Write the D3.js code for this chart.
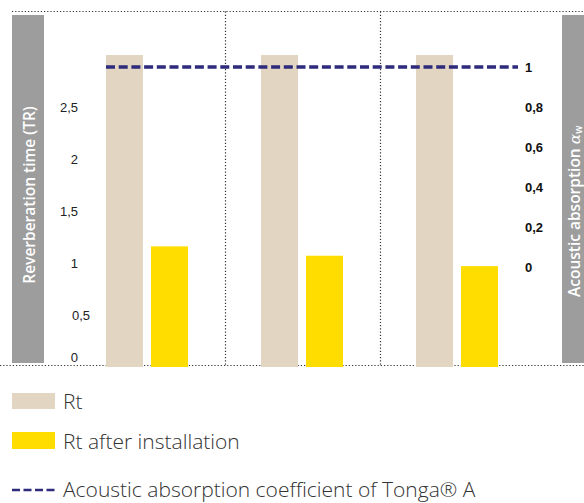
<!DOCTYPE html>
<html lang="en">
<head>
<meta charset="UTF-8">
<title>Reverberation time before and after Tonga A</title>
<script src="https://d3js.org/d3.v7.min.js"></script>
<style>
  body { margin: 0; background: #fff; }
  svg { display: block; }
  .tick-l { font: 13px "Liberation Sans", Arial, sans-serif; fill: #222; }
  .tick-r { font: bold 13px "Liberation Sans", Arial, sans-serif; fill: #111; }
  .side-title { font: 600 15.5px "Open Sans", sans-serif; fill: #fff; }
  .legend-text { font: 300 21px "Open Sans", sans-serif; fill: #333; }
</style>
</head>
<body>
<div id="chart"></div>
<script>
// data
var rooms = ["Room 1", "Room 2", "Room 3"];
var seriesKeys = ["Rt", "Rt after installation"];
var rtBefore = [3.0, 3.0, 3.0];
var rtAfter = [1.16, 1.07, 0.97];
var absorption = 1.0;
var leftTicks = [0, 0.5, 1, 1.5, 2, 2.5];
var rightTicks = [0, 0.2, 0.4, 0.6, 0.8, 1];

var width = 584, height = 503;
var colors = { "Rt": "#e2d5c2", "Rt after installation": "#ffdd00" };
var navy = "#2e2a7c";

var svg = d3.select("#chart").append("svg")
  .attr("width", width)
  .attr("height", height);

// scales
var x0 = d3.scaleBand().domain(rooms).range([70, 535]).padding(0);
var x1 = d3.scaleBand().domain(seriesKeys).range([36, 118]).paddingInner(8 / 45).paddingOuter(0);
var yL = d3.scaleLinear().domain([0, 3]).range([367, 55]);
var yR = d3.scaleLinear().domain([0, 1]).range([267, 67]);

var fmt = function(d) { return String(d).replace(".", ","); };

// grey side bands
svg.append("rect").attr("x", 12).attr("y", 15).attr("width", 32).attr("height", 348).attr("fill", "#9d9d9d");
svg.append("rect").attr("x", 562).attr("y", 15).attr("width", 22).attr("height", 348).attr("fill", "#9d9d9d");

svg.append("text")
  .attr("class", "side-title")
  .attr("transform", "translate(35,195) rotate(-90)")
  .attr("text-anchor", "middle")
  .text("Reverberation time (TR)");

var rt = svg.append("text")
  .attr("class", "side-title")
  .attr("transform", "translate(580,297) rotate(-90)");
rt.append("tspan").text("Acoustic absorption ");
rt.append("tspan").style("font-family", "DejaVu Serif").style("font-style", "italic").style("font-weight", "normal").text("α");
rt.append("tspan").attr("dy", 2).style("font-size", "10px").text("w");

// dotted frame lines
var dotted = { stroke: "#333", "stroke-width": 1.2, "stroke-dasharray": "1.2,2" };
function dline(x1_, y1_, x2_, y2_) {
  var l = svg.append("line").attr("x1", x1_).attr("y1", y1_).attr("x2", x2_).attr("y2", y2_);
  Object.keys(dotted).forEach(function(k) { l.attr(k, dotted[k]); });
}
dline(12, 11.5, 584, 11.5);
dline(0, 365.5, 584, 365.5);
rooms.slice(1).forEach(function(r) {
  dline(x0(r) + 0.5, 11.5, x0(r) + 0.5, 365);
});

// bars
var groups = svg.selectAll("g.room")
  .data(rooms)
  .enter().append("g")
  .attr("class", "room")
  .attr("transform", function(d) { return "translate(" + x0(d) + ",0)"; });

groups.selectAll("rect")
  .data(function(d, i) {
    return [{ key: "Rt", value: rtBefore[i] }, { key: "Rt after installation", value: rtAfter[i] }];
  })
  .enter().append("rect")
  .attr("x", function(d) { return x1(d.key); })
  .attr("width", x1.bandwidth())
  .attr("y", function(d) { return yL(d.value); })
  .attr("height", function(d) { return yL(0) - yL(d.value); })
  .attr("fill", function(d) { return colors[d.key]; });

// absorption dashed line
svg.append("line")
  .attr("x1", x0(rooms[0]) + x1("Rt"))
  .attr("x2", 518)
  .attr("y1", yR(absorption))
  .attr("y2", yR(absorption))
  .attr("stroke", navy)
  .attr("stroke-width", 3.5)
  .attr("stroke-dasharray", "9,3.7");

// left ticks
svg.selectAll("text.tick-l")
  .data(leftTicks)
  .enter().append("text")
  .attr("class", "tick-l")
  .attr("x", function(d) { return d === 0.5 ? 90 : 78; })
  .attr("y", function(d) { return Math.min(yL(d), yL(0) - 10); })
  .attr("dy", "0.35em")
  .attr("text-anchor", "end")
  .text(fmt);

// right ticks
svg.selectAll("text.tick-r")
  .data(rightTicks)
  .enter().append("text")
  .attr("class", "tick-r")
  .attr("x", 525)
  .attr("y", function(d) { return yR(d); })
  .attr("dy", "0.35em")
  .text(fmt);

// legend
var legend = svg.append("g");
legend.append("rect").attr("x", 12).attr("y", 393).attr("width", 43).attr("height", 16).attr("fill", colors["Rt"]);
legend.append("text").attr("class", "legend-text").attr("x", 63).attr("y", 409).text("Rt");
legend.append("rect").attr("x", 12).attr("y", 432).attr("width", 43).attr("height", 17).attr("fill", colors["Rt after installation"]);
legend.append("text").attr("class", "legend-text").attr("x", 63).attr("y", 449).text("Rt after installation");
legend.append("line")
  .attr("x1", 12).attr("x2", 58).attr("y1", 490).attr("y2", 490)
  .attr("stroke", navy).attr("stroke-width", 2.5).attr("stroke-dasharray", "8,3.5");
legend.append("text").attr("class", "legend-text").attr("x", 63).attr("y", 497)
  .text("Acoustic absorption coefficient of Tonga® A");
</script>
</body>
</html>
